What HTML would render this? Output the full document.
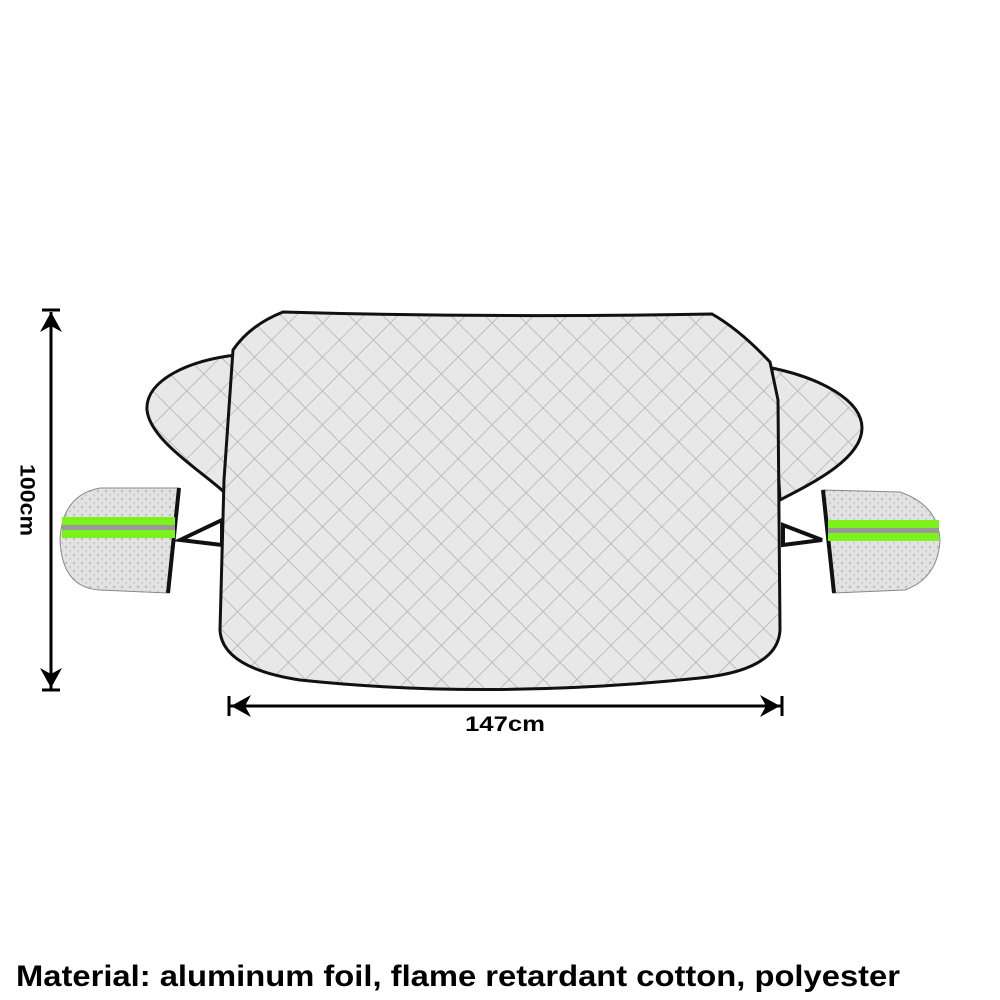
<!DOCTYPE html>
<html><head><style>
html,body{margin:0;padding:0;background:#fff;width:1000px;height:1000px;overflow:hidden}
</style></head><body>
<svg width="1000" height="1000" viewBox="0 0 1000 1000" xmlns="http://www.w3.org/2000/svg">
<defs>
<pattern id="q" width="24" height="24" patternUnits="userSpaceOnUse" patternTransform="rotate(45)">
<rect width="24" height="24" fill="#e8e8e8"/>
<path d="M0 0H24M0 0V24" stroke="#b0b0b0" stroke-width="1.5"/>
</pattern>
<pattern id="f" width="8" height="8" patternUnits="userSpaceOnUse">
<rect width="8" height="8" fill="#e2e2e2"/>
<circle cx="2" cy="3" r="1.2" fill="#bcbcbc"/><circle cx="6" cy="7" r="1" fill="#c8c8c8"/>
</pattern>
</defs>
<path d="M236,355 C190,360 145,380 147,410 C150,440 200,470 224,492 Z" fill="url(#q)" stroke="#111" stroke-width="3"/>
<path d="M772,368 C820,378 862,400 862,428 C862,458 815,482 780,500 Z" fill="url(#q)" stroke="#111" stroke-width="3"/>
<path d="M180,540 L222,520 L222,545 Z" fill="none" stroke="#111" stroke-width="4"/>
<path d="M822,540 L783,525 L783,545 Z" fill="none" stroke="#111" stroke-width="4"/>
<path d="M283,312 Q490,318 712,314 Q740,330 770,362 L778,400 L780,630 Q778,670 700,678 Q490,700 300,680 Q222,668 220,630 L224,480 L233,350 Q250,325 283,312 Z" fill="url(#q)" stroke="#111" stroke-width="3"/>
<path d="M179,488 L100,488 Q62,495 60,540 Q62,588 100,590 L168,593 Z" fill="url(#f)" stroke="#888" stroke-width="1"/>
<line x1="179" y1="488" x2="168" y2="593" stroke="#111" stroke-width="4"/>
<rect x="62" y="517" width="113" height="21" fill="#7cf21c"/>
<rect x="62" y="525" width="113" height="5" fill="#999"/>
<path d="M823,490 L900,492 Q938,505 940,540 Q938,578 905,590 L834,593 Z" fill="url(#f)" stroke="#888" stroke-width="1"/>
<line x1="823" y1="490" x2="834" y2="593" stroke="#111" stroke-width="4"/>
<rect x="828" y="520" width="111" height="21" fill="#7cf21c"/>
<rect x="828" y="528" width="111" height="5" fill="#999"/>
<line x1="51" y1="312" x2="51" y2="690" stroke="#000" stroke-width="3"/>
<line x1="42" y1="310" x2="60" y2="310" stroke="#000" stroke-width="3"/>
<line x1="42" y1="690" x2="60" y2="690" stroke="#000" stroke-width="3"/>
<path d="M51,312 L40,332 L51,326 L62,332 Z" fill="#000"/>
<path d="M51,688 L40,668 L51,674 L62,668 Z" fill="#000"/>
<text x="26" y="500" transform="rotate(90 26 500)" font-family="Liberation Sans, sans-serif" font-weight="bold" font-size="21" text-anchor="middle" dominant-baseline="middle" textLength="72" lengthAdjust="spacingAndGlyphs">100cm</text>
<line x1="230" y1="706" x2="781" y2="706" stroke="#000" stroke-width="3"/>
<line x1="229" y1="696" x2="229" y2="716" stroke="#000" stroke-width="3"/>
<line x1="782" y1="696" x2="782" y2="716" stroke="#000" stroke-width="3"/>
<path d="M231,706 L251,695 L245,706 L251,717 Z" fill="#000"/>
<path d="M780,706 L760,695 L766,706 L760,717 Z" fill="#000"/>
<text x="505" y="731" font-family="Liberation Sans, sans-serif" font-weight="bold" font-size="21" text-anchor="middle" textLength="80" lengthAdjust="spacingAndGlyphs">147cm</text>
<text x="16" y="986" font-family="Liberation Sans, sans-serif" font-weight="bold" font-size="30" textLength="884" lengthAdjust="spacingAndGlyphs">Material: aluminum foil, flame retardant cotton, polyester</text>
</svg>
</body></html>
